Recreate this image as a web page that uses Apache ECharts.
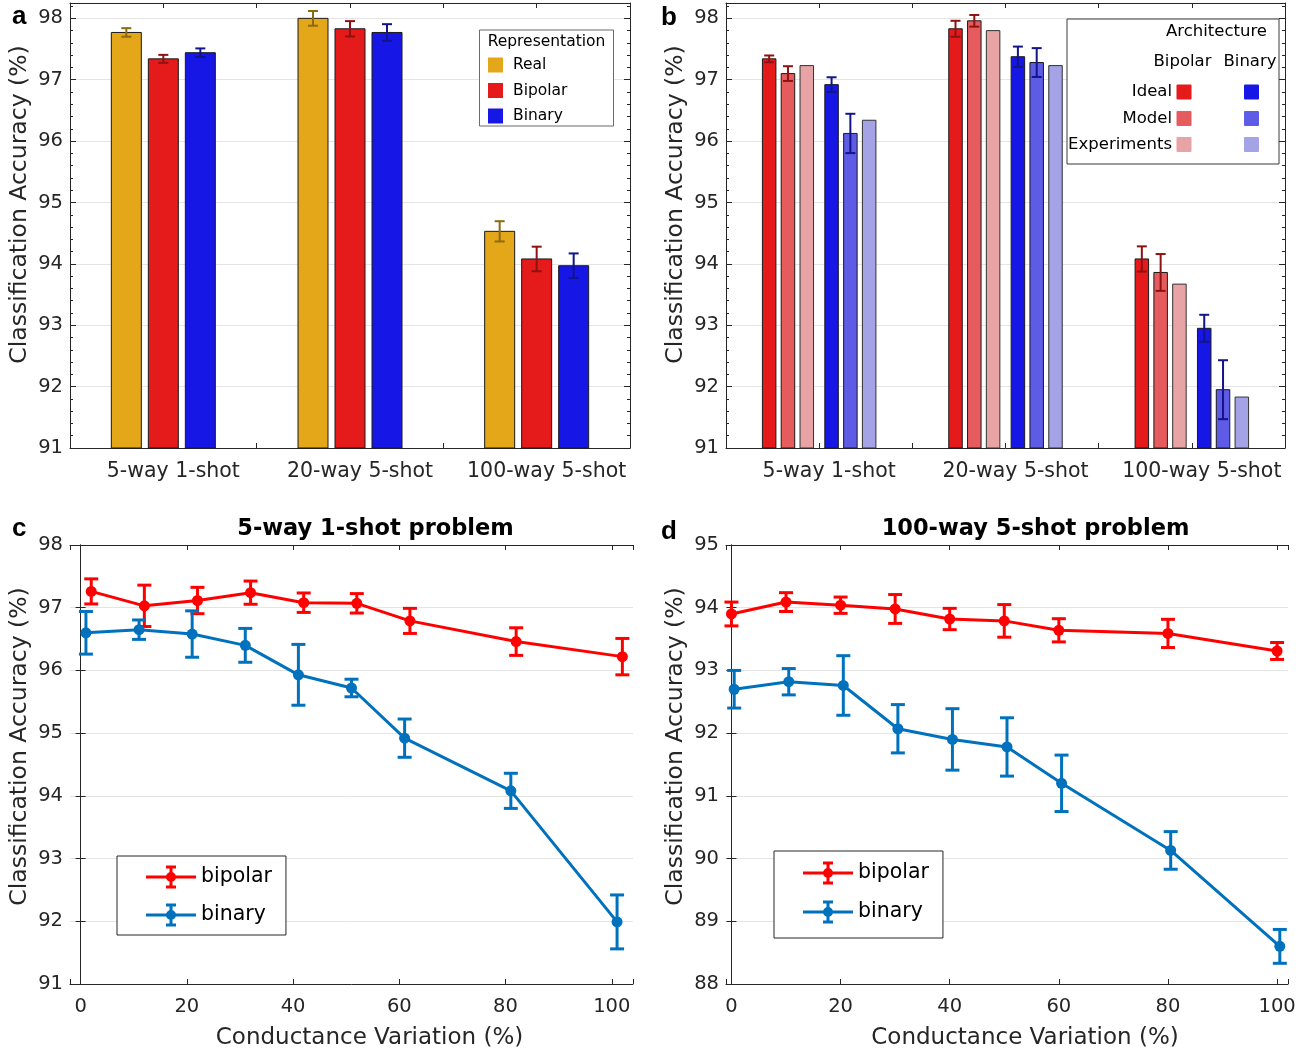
<!DOCTYPE html>
<html>
<head>
<meta charset="utf-8">
<script src="https://cdn.jsdelivr.net/npm/echarts@6/dist/echarts.min.js"></script>
<style>
html,body{margin:0;padding:0;background:#ffffff;}
#chart{width:1315px;height:1053px;}
</style>
</head>
<body>
<div id="chart"></div>
<script>
// ---------------- DATA ----------------
const CATEGORIES = ['5-way 1-shot', '20-way 5-shot', '100-way 5-shot'];

// Panel a: representation comparison
const A_REAL = [97.77, 98.00, 94.53];
const A_REAL_ERR = [0.07, 0.12, 0.165];
const A_BIPOLAR = [97.34, 97.83, 94.08];
const A_BIPOLAR_ERR = [0.065, 0.125, 0.20];
const A_BINARY = [97.44, 97.77, 93.97];
const A_BINARY_ERR = [0.07, 0.135, 0.20];

// Panel b: architecture comparison
const B_BIPOLAR_IDEAL = [97.34, 97.83, 94.08];
const B_BIPOLAR_IDEAL_ERR = [0.055, 0.13, 0.205];
const B_BIPOLAR_MODEL = [97.10, 97.96, 93.86];
const B_BIPOLAR_MODEL_ERR = [0.12, 0.095, 0.30];
const B_BIPOLAR_EXP = [97.23, 97.80, 93.67];
const B_BINARY_IDEAL = [96.92, 97.375, 92.95];
const B_BINARY_IDEAL_ERR = [0.12, 0.165, 0.22];
const B_BINARY_MODEL = [96.125, 97.28, 91.95];
const B_BINARY_MODEL_ERR = [0.32, 0.235, 0.48];
const B_BINARY_EXP = [96.34, 97.23, 91.83];

// Panel c: 5-way 1-shot vs conductance variation
const C_X_BIPOLAR = [2, 12, 22, 32, 42, 52, 62, 82, 102];
const C_BIPOLAR = [97.26, 97.03, 97.115, 97.24, 97.08, 97.07, 96.79, 96.46, 96.22];
const C_BIPOLAR_ERR = [0.20, 0.33, 0.21, 0.185, 0.155, 0.155, 0.20, 0.22, 0.29];
const C_X_BINARY = [1, 11, 21, 31, 41, 51, 61, 81, 101];
const C_BINARY = [96.60, 96.65, 96.58, 96.40, 95.93, 95.72, 94.92, 94.08, 91.99];
const C_BINARY_ERR = [0.34, 0.155, 0.37, 0.27, 0.485, 0.14, 0.305, 0.28, 0.43];

// Panel d: 100-way 5-shot vs conductance variation
const D_X_BIPOLAR = [0, 10, 20, 30, 40, 50, 60, 80, 100];
const D_BIPOLAR = [93.90, 94.09, 94.04, 93.98, 93.82, 93.79, 93.64, 93.59, 93.31];
const D_BIPOLAR_ERR = [0.19, 0.15, 0.13, 0.23, 0.17, 0.26, 0.185, 0.225, 0.135];
const D_X_BINARY = [0.5, 10.5, 20.5, 30.5, 40.5, 50.5, 60.5, 80.5, 100.5];
const D_BINARY = [92.70, 92.82, 92.76, 92.07, 91.90, 91.78, 91.20, 90.13, 88.60];
const D_BINARY_ERR = [0.30, 0.21, 0.475, 0.385, 0.49, 0.465, 0.45, 0.30, 0.27];

// Axis ranges
const AB_Y_MIN = 91, AB_Y_MAX = 98.25;
const C_Y_MIN = 91, C_Y_MAX = 98;
const D_Y_MIN = 88, D_Y_MAX = 95;

// ---------------- STYLE ----------------
const FONT = 'DejaVu Sans';
const AX = '#262626';
const GRIDLINE = '#e4e4e4';
const COL = {
  real: '#E5A71A', bipolar: '#E51A1A', binary: '#1717E5',
  realErr: '#8C6A12', bipolarErr: '#8E1212', binaryErr: '#13138A',
  bipIdeal: '#E51A1A', bipModel: '#E65C5E', bipExp: '#E8A3A4',
  binIdeal: '#1717E5', binModel: '#5E5CE6', binExp: '#A3A3E6',
  lineRed: '#FF0000', lineBlue: '#0072BD'
};

function catFormatter(v) {
  const i = Math.round(v);
  return (Math.abs(v - i) < 1e-6 && i >= 1 && i <= CATEGORIES.length) ? CATEGORIES[i - 1] : '';
}
function intFormatter(v) {
  const i = Math.round(v);
  return Math.abs(v - i) < 1e-6 ? String(i) : '';
}
function mult20Formatter(v) {
  const i = Math.round(v);
  return (Math.abs(v - i) < 1e-6 && i % 20 === 0) ? String(i) : '';
}

const tickLabel = { color: AX, fontFamily: FONT, fontSize: 19.5 };

function xAxisDef(grid, pos, min, max, extra, labelFmt, labelPad, fontSize) {
  return Object.assign({
    type: 'value', gridIndex: grid, position: pos, min: min, max: max,
    axisLine: { show: true, lineStyle: { color: AX, width: 1 } },
    axisTick: { show: true, inside: true, length: 5, lineStyle: { color: AX } },
    axisLabel: labelFmt ? Object.assign({ show: true, formatter: labelFmt, margin: 13, padding: labelPad || 0, hideOverlap: false, showMinLabel: true, showMaxLabel: true }, tickLabel, fontSize ? { fontSize: fontSize } : {}) : { show: false },
    splitLine: { show: false }
  }, extra);
}
function yAxisDef(grid, pos, min, max, interval, opts) {
  opts = opts || {};
  return {
    type: 'value', gridIndex: grid, position: pos, min: min, max: max, interval: interval,
    axisLine: { show: opts.line !== false, lineStyle: { color: AX, width: 1 } },
    axisTick: { show: true, inside: true, length: opts.tickLen || 6, lineStyle: { color: AX } },
    axisLabel: opts.labels ? Object.assign({ show: true, formatter: intFormatter, margin: 7 }, tickLabel) : { show: false },
    splitLine: { show: !!opts.split, lineStyle: { color: GRIDLINE, width: 1 } },
    name: opts.name || '', nameLocation: 'middle', nameRotate: 90, nameGap: opts.nameGap || 38,
    nameTextStyle: { color: AX, fontFamily: FONT, fontSize: 23.5, padding: opts.namePad || 0 }
  };
}

const YNAME = 'Classification Accuracy (%)';
const XNAME = 'Conductance Variation (%)';

const xAxes = [
  // a
  xAxisDef(0, 'bottom', 0.5, 3.5, { interval: 0.5 }, catFormatter, [0, 0, 0, 20], 20.5),
  xAxisDef(0, 'top', 0.5, 3.5, { interval: 0.5 }, null),
  // b
  xAxisDef(1, 'bottom', 0.5, 3.5, { interval: 0.5 }, catFormatter, [0, 0, 0, 20], 20.5),
  xAxisDef(1, 'top', 0.5, 3.5, { interval: 0.5 }, null),
  // c
  xAxisDef(2, 'bottom', -2, 104, { splitNumber: 5, name: XNAME, nameLocation: 'middle', nameGap: 43,
    nameTextStyle: { color: AX, fontFamily: FONT, fontSize: 23, padding: [0, 0, 0, 36] } }, mult20Formatter),
  xAxisDef(2, 'top', -2, 104, { splitNumber: 5 }, null),
  // d
  xAxisDef(3, 'bottom', -1, 102, { splitNumber: 5, name: XNAME, nameLocation: 'middle', nameGap: 43,
    nameTextStyle: { color: AX, fontFamily: FONT, fontSize: 23, padding: [0, 0, 0, 36] } }, mult20Formatter),
  xAxisDef(3, 'top', -1, 102, { splitNumber: 5 }, null)
];

const yAxes = [
  // a: 0..3
  yAxisDef(0, 'left', AB_Y_MIN, AB_Y_MAX, 1, { labels: true, split: true, name: YNAME, namePad: [0, 0, 0, 42] }),
  yAxisDef(0, 'left', AB_Y_MIN, AB_Y_MAX, 0.2, { line: false, tickLen: 3 }),
  yAxisDef(0, 'right', AB_Y_MIN, AB_Y_MAX, 1, {}),
  yAxisDef(0, 'right', AB_Y_MIN, AB_Y_MAX, 0.2, { line: false, tickLen: 3 }),
  // b: 4..7
  yAxisDef(1, 'left', AB_Y_MIN, AB_Y_MAX, 1, { labels: true, split: true, name: YNAME, namePad: [0, 0, 0, 42] }),
  yAxisDef(1, 'left', AB_Y_MIN, AB_Y_MAX, 0.2, { line: false, tickLen: 3 }),
  yAxisDef(1, 'right', AB_Y_MIN, AB_Y_MAX, 1, {}),
  yAxisDef(1, 'right', AB_Y_MIN, AB_Y_MAX, 0.2, { line: false, tickLen: 3 }),
  // c: 8..9
  yAxisDef(2, 'left', C_Y_MIN, C_Y_MAX, 1, { labels: true, split: true, name: YNAME, namePad: [0, 0, 0, 36], tickLen: 5 }),
  yAxisDef(2, 'right', C_Y_MIN, C_Y_MAX, 1, { tickLen: 5 }),
  // d: 10..11
  yAxisDef(3, 'left', D_Y_MIN, D_Y_MAX, 1, { labels: true, split: true, name: YNAME, namePad: [0, 0, 0, 36], tickLen: 5 }),
  yAxisDef(3, 'right', D_Y_MIN, D_Y_MAX, 1, { tickLen: 5 })
];

// ---------------- RENDERERS ----------------
function barRenderer(offset, width, fill, edge, errColor, capHalf, base) {
  return function (params, api) {
    const x = api.value(0), v = api.value(1), e = api.value(2);
    const top = api.coord([x, v]);
    const bot = api.coord([x, base]);
    const cx = top[0] + offset;
    const children = [{
      type: 'rect',
      shape: { x: cx - width / 2, y: top[1], width: width, height: bot[1] - top[1] },
      style: { fill: fill, stroke: edge, lineWidth: 1 }
    }];
    if (e > 0) {
      const hi = api.coord([x, v + e])[1], lo = api.coord([x, v - e])[1];
      const st = { stroke: errColor, lineWidth: 2 };
      children.push({ type: 'line', shape: { x1: cx, y1: hi, x2: cx, y2: lo }, style: st });
      children.push({ type: 'line', shape: { x1: cx - capHalf, y1: hi, x2: cx + capHalf, y2: hi }, style: st });
      children.push({ type: 'line', shape: { x1: cx - capHalf, y1: lo, x2: cx + capHalf, y2: lo }, style: st });
    }
    return { type: 'group', children: children };
  };
}
function errRenderer(color, capHalf, lw) {
  return function (params, api) {
    const x = api.value(0), v = api.value(1), e = api.value(2);
    const hi = api.coord([x, v + e]), lo = api.coord([x, v - e]);
    const cx = hi[0];
    const st = { stroke: color, lineWidth: lw };
    return { type: 'group', children: [
      { type: 'line', shape: { x1: cx, y1: hi[1], x2: cx, y2: lo[1] }, style: st },
      { type: 'line', shape: { x1: cx - capHalf, y1: hi[1], x2: cx + capHalf, y2: hi[1] }, style: st },
      { type: 'line', shape: { x1: cx - capHalf, y1: lo[1], x2: cx + capHalf, y2: lo[1] }, style: st }
    ] };
  };
}
function catData(vals, errs) {
  return vals.map((v, i) => [i + 1, v, errs ? errs[i] : 0]);
}
function barSeries(name, xi, yi, vals, errs, offset, width, fill, errColor, capHalf, edge) {
  return {
    type: 'custom', name: name, xAxisIndex: xi, yAxisIndex: yi,
    dimensions: ['x', 'y', 'err'], encode: { x: 0, y: 1 },
    data: catData(vals, errs), itemStyle: { color: fill }, z: 3,
    renderItem: barRenderer(offset, width, fill, edge || '#1a1a1a', errColor, capHalf, AB_Y_MIN)
  };
}
function lineSeries(name, xi, yi, xs, ys, color) {
  return {
    type: 'line', name: name, xAxisIndex: xi, yAxisIndex: yi,
    data: xs.map((x, i) => [x, ys[i]]),
    symbol: 'circle', symbolSize: 11, showSymbol: true,
    lineStyle: { color: color, width: 3 }, itemStyle: { color: color },
    z: 4, animation: false
  };
}
function errSeries(name, xi, yi, xs, ys, es, color) {
  return {
    type: 'custom', name: name, xAxisIndex: xi, yAxisIndex: yi,
    dimensions: ['x', 'y', 'err'], encode: { x: 0, y: 1 },
    data: xs.map((x, i) => [x, ys[i], es[i]]), z: 4,
    itemStyle: { color: color },
    renderItem: errRenderer(color, 7, 3)
  };
}

const A_W = 30, A_STEP = 37;
const B_W = 13.5;
const B_OFF = [-50, -31.2, -12.4, 12.4, 31.2, 50];

const series = [
  barSeries('Real', 0, 0, A_REAL, A_REAL_ERR, -A_STEP, A_W, COL.real, COL.realErr, 5),
  barSeries('Bipolar', 0, 0, A_BIPOLAR, A_BIPOLAR_ERR, 0, A_W, COL.bipolar, COL.bipolarErr, 5),
  barSeries('Binary', 0, 0, A_BINARY, A_BINARY_ERR, A_STEP, A_W, COL.binary, COL.binaryErr, 5),

  barSeries('Bipolar Ideal', 2, 4, B_BIPOLAR_IDEAL, B_BIPOLAR_IDEAL_ERR, B_OFF[0], B_W, COL.bipIdeal, COL.bipolarErr, 5),
  barSeries('Bipolar Model', 2, 4, B_BIPOLAR_MODEL, B_BIPOLAR_MODEL_ERR, B_OFF[1], B_W, COL.bipModel, COL.bipolarErr, 5),
  barSeries('Bipolar Experiments', 2, 4, B_BIPOLAR_EXP, null, B_OFF[2], B_W, COL.bipExp, COL.bipolarErr, 5, '#333333'),
  barSeries('Binary Ideal', 2, 4, B_BINARY_IDEAL, B_BINARY_IDEAL_ERR, B_OFF[3], B_W, COL.binIdeal, COL.binaryErr, 5),
  barSeries('Binary Model', 2, 4, B_BINARY_MODEL, B_BINARY_MODEL_ERR, B_OFF[4], B_W, COL.binModel, COL.binaryErr, 5),
  barSeries('Binary Experiments', 2, 4, B_BINARY_EXP, null, B_OFF[5], B_W, COL.binExp, COL.binaryErr, 5, '#333333'),

  errSeries('bipolar-err-c', 4, 8, C_X_BIPOLAR, C_BIPOLAR, C_BIPOLAR_ERR, COL.lineRed),
  lineSeries('bipolar', 4, 8, C_X_BIPOLAR, C_BIPOLAR, COL.lineRed),
  errSeries('binary-err-c', 4, 8, C_X_BINARY, C_BINARY, C_BINARY_ERR, COL.lineBlue),
  lineSeries('binary', 4, 8, C_X_BINARY, C_BINARY, COL.lineBlue),

  errSeries('bipolar-err-d', 6, 10, D_X_BIPOLAR, D_BIPOLAR, D_BIPOLAR_ERR, COL.lineRed),
  lineSeries('bipolar', 6, 10, D_X_BIPOLAR, D_BIPOLAR, COL.lineRed),
  errSeries('binary-err-d', 6, 10, D_X_BINARY, D_BINARY, D_BINARY_ERR, COL.lineBlue),
  lineSeries('binary', 6, 10, D_X_BINARY, D_BINARY, COL.lineBlue)
];

const ERR_ICON = 'path://M0,10.5H50V13.5H0Z M23.5,2H26.5V22H23.5Z M20,0.5H30V3.5H20Z M20,20.5H30V23.5H20Z M30,12A5,5,0,1,1,20,12A5,5,0,1,1,30,12Z';

function lineLegend(left, top, padTop, padBottom, gap) {
  return {
    show: true, orient: 'vertical', left: left, top: top,
    data: ['bipolar', 'binary'], icon: ERR_ICON,
    itemWidth: 50, itemHeight: 24, itemGap: gap,
    padding: [padTop, 14, padBottom, 29],
    backgroundColor: '#ffffff', borderColor: AX, borderWidth: 1, borderRadius: 0,
    itemStyle: { borderWidth: 0 },
    textStyle: { color: '#000000', fontFamily: FONT, fontSize: 20.5, lineHeight: 24 },
    selectedMode: false, z: 10
  };
}

const legends = [
  {
    show: true, orient: 'vertical', left: 488, top: 57, padding: 0,
    data: ['Real', 'Bipolar', 'Binary'], icon: 'rect',
    itemWidth: 15, itemHeight: 15, itemGap: 9.5,
    textStyle: { color: '#000000', fontFamily: FONT, fontSize: 15.5, lineHeight: 15, padding: [0, 0, 0, 5] },
    selectedMode: false, z: 10
  },
  lineLegend(117, 856, 9, 8, 14),
  lineLegend(774, 851, 10, 14, 15)
];

// Panel b legend table and labels (graphic)
const LEG_B_ROWS = ['Ideal', 'Model', 'Experiments'];
const LEG_B_BIP = [COL.bipIdeal, COL.bipModel, COL.bipExp];
const LEG_B_BIN = [COL.binIdeal, COL.binModel, COL.binExp];
const LEG_B_Y = [92, 118.5, 144.5];

const graphics = [
  // panel letters
  { type: 'text', x: 12, y: 17, style: { text: 'a', font: 'bold 26px "Liberation Sans"', fill: '#000', verticalAlign: 'middle' } },
  { type: 'text', x: 661, y: 18, style: { text: 'b', font: 'bold 26px "Liberation Sans"', fill: '#000', verticalAlign: 'middle' } },
  { type: 'text', x: 12, y: 529, style: { text: 'c', font: 'bold 26px "Liberation Sans"', fill: '#000', verticalAlign: 'middle' } },
  { type: 'text', x: 661, y: 532, style: { text: 'd', font: 'bold 26px "Liberation Sans"', fill: '#000', verticalAlign: 'middle' } },
  // titles c and d
  { type: 'text', x: 375.5, y: 529, style: { text: '5-way 1-shot problem', font: 'bold 22.5px "DejaVu Sans"', fill: '#000', align: 'center', verticalAlign: 'middle' } },
  { type: 'text', x: 1035.5, y: 529, style: { text: '100-way 5-shot problem', font: 'bold 22.5px "DejaVu Sans"', fill: '#000', align: 'center', verticalAlign: 'middle' } },
  // legend a box + title
  { type: 'rect', z: 5, shape: { x: 479.5, y: 30, width: 134, height: 96 }, style: { fill: '#ffffff', stroke: '#6b6b6b', lineWidth: 1 } },
  { type: 'text', z: 6, x: 546.5, y: 41.5, style: { text: 'Representation', font: '15.5px "DejaVu Sans"', fill: '#000', align: 'center', verticalAlign: 'middle' } },
  // legend b box
  { type: 'rect', z: 5, shape: { x: 1067, y: 19, width: 212, height: 145 }, style: { fill: '#ffffff', stroke: '#3a3a3a', lineWidth: 1 } },
  { type: 'text', z: 6, x: 1216.5, y: 32, style: { text: 'Architecture', font: '16.5px "DejaVu Sans"', fill: '#000', align: 'center', verticalAlign: 'middle' } },
  { type: 'text', z: 6, x: 1182.5, y: 62, style: { text: 'Bipolar', font: '16.5px "DejaVu Sans"', fill: '#000', align: 'center', verticalAlign: 'middle' } },
  { type: 'text', z: 6, x: 1250, y: 62, style: { text: 'Binary', font: '16.5px "DejaVu Sans"', fill: '#000', align: 'center', verticalAlign: 'middle' } }
];
LEG_B_ROWS.forEach((label, i) => {
  graphics.push({ type: 'text', z: 6, x: 1172, y: LEG_B_Y[i], style: { text: label, font: '16.5px "DejaVu Sans"', fill: '#000', align: 'right', verticalAlign: 'middle' } });
  graphics.push({ type: 'rect', z: 6, shape: { x: 1176.5, y: LEG_B_Y[i] - 7.5, width: 15, height: 15, r: 1 }, style: { fill: LEG_B_BIP[i] } });
  graphics.push({ type: 'rect', z: 6, shape: { x: 1244, y: LEG_B_Y[i] - 7.5, width: 15, height: 15, r: 1 }, style: { fill: LEG_B_BIN[i] } });
});

const option = {
  backgroundColor: '#ffffff',
  animation: false,
  textStyle: { fontFamily: FONT },
  grid: [
    { left: 70, top: 3, width: 560, height: 445 },
    { left: 726, top: 3, width: 559, height: 445 },
    { left: 70, top: 545, width: 563, height: 439 },
    { left: 726, top: 545, width: 562, height: 439 }
  ],
  xAxis: xAxes,
  yAxis: yAxes,
  legend: legends,
  series: series,
  graphic: graphics
};

const chart = echarts.init(document.getElementById('chart'), null, { renderer: 'canvas', width: 1315, height: 1053 });
chart.setOption(option);
</script>
</body>
</html>
